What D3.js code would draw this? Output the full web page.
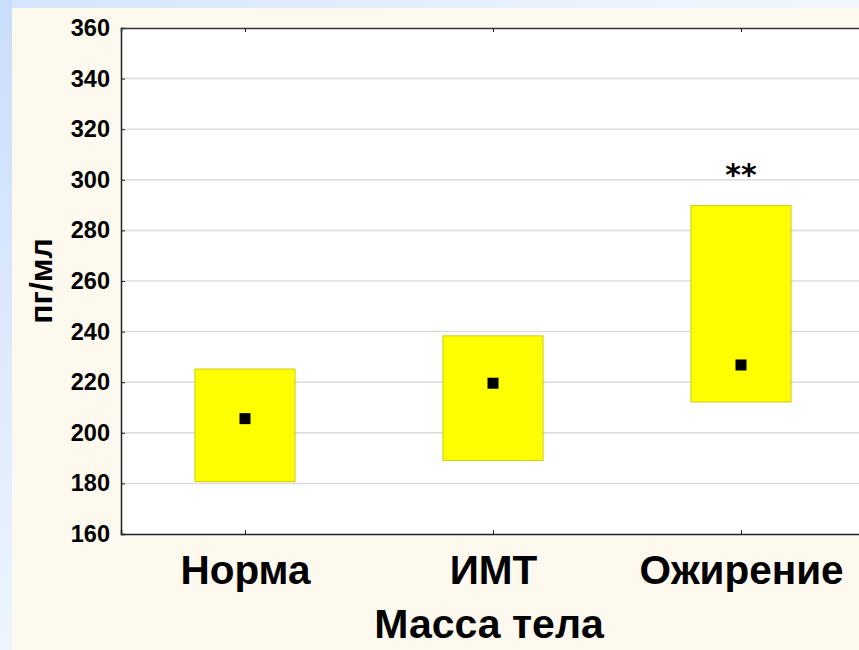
<!DOCTYPE html>
<html><head><meta charset="utf-8">
<script src="https://cdn.jsdelivr.net/npm/d3@7"></script>
<style>body{margin:0;padding:0;overflow:hidden}svg{display:block}</style>
</head><body>
<script>
const categories = ["Норма", "ИМТ", "Ожирение"];
const means = [205.6, 219.6, 226.8];
const lower = [180.7, 189.1, 212.2];
const upper = [225.2, 238.3, 289.8];
const yTicks = [160, 180, 200, 220, 240, 260, 280, 300, 320, 340, 360];
const marks = ["", "", "**"];

(function(){
const W = 859, H = 650;
const svg = d3.select("body").append("svg").attr("width", W).attr("height", H);
const defs = svg.append("defs");
const g1 = defs.append("linearGradient").attr("id","bgL").attr("x1",0).attr("y1",0).attr("x2",0).attr("y2",1);
g1.append("stop").attr("offset","0%").attr("stop-color","#c9defb");
g1.append("stop").attr("offset","100%").attr("stop-color","#edf4fd");
const g2 = defs.append("linearGradient").attr("id","bgT").attr("x1",0).attr("y1",0).attr("x2",1).attr("y2",0);
g2.append("stop").attr("offset","0%").attr("stop-color","#d3e5fc");
g2.append("stop").attr("offset","100%").attr("stop-color","#f3f8ff");
svg.append("rect").attr("width",W).attr("height",H).attr("fill","url(#bgT)");
svg.append("rect").attr("width",12).attr("height",H).attr("fill","url(#bgL)");
svg.append("rect").attr("x",12).attr("y",8).attr("width",W-12).attr("height",H-8).attr("fill","#fdf9ef");

const pL = 121, pT = 28, pB = 534, pR = 865;
const x = d3.scalePoint().domain(categories).range([pL, pR]).padding(0.5);
const y = d3.scaleLinear().domain([160, 360]).range([pB, pT]);

svg.append("rect").attr("x",pL).attr("y",pT).attr("width",W-pL).attr("height",pB-pT).attr("fill","#ffffff");

// gridlines
svg.append("g").selectAll("line").data(yTicks.filter(d=>d>160 && d<360)).join("line")
  .attr("x1",pL).attr("x2",W).attr("y1",d=>y(d)).attr("y2",d=>y(d))
  .attr("stroke","#dcdcdc").attr("stroke-width",1.5);

// boxes
const bw = 100;
svg.append("g").selectAll("rect").data(categories).join("rect")
  .attr("x",(d)=>x(d)-bw/2).attr("width",bw)
  .attr("y",(d,i)=>y(upper[i])).attr("height",(d,i)=>y(lower[i])-y(upper[i]))
  .attr("fill","#ffff00").attr("stroke","#cccc00").attr("stroke-width",1);

// means
const ps = 11;
svg.append("g").selectAll("rect").data(categories).join("rect")
  .attr("x",d=>x(d)-ps/2).attr("y",(d,i)=>y(means[i])-ps/2)
  .attr("width",ps).attr("height",ps).attr("fill","#000");

// significance marks
svg.append("g").selectAll("text").data(categories).join("text")
  .attr("x",d=>x(d)).attr("y",(d,i)=>y(upper[i]) - 21)
  .attr("text-anchor","middle")
  .attr("font-family","'DejaVu Sans',sans-serif").attr("font-weight","bold")
  .attr("font-size",30).attr("fill","#000")
  .text((d,i)=>marks[i]);

// axes
const yAxis = d3.axisLeft(y).tickValues(yTicks).tickSize(-4).tickPadding(11);
const ya = svg.append("g").attr("transform",`translate(${pL},0)`).call(yAxis);
ya.select(".domain").attr("stroke","#222").attr("stroke-width",1.5);
ya.selectAll(".tick line").attr("stroke","#222");
ya.selectAll("text").attr("font-family","'Liberation Sans',Arial,sans-serif").attr("font-weight","bold")
  .attr("font-size",23.5).attr("fill","#000");

const xAxis = d3.axisBottom(x).tickSize(-4).tickPadding(21);
const xa = svg.append("g").attr("transform",`translate(0,${pB})`).call(xAxis);
xa.select(".domain").attr("stroke","#222").attr("stroke-width",1.5);
xa.selectAll(".tick line").attr("stroke","#222");
xa.selectAll("text").attr("font-family","'Liberation Sans',Arial,sans-serif").attr("font-weight","bold")
  .attr("font-size",40.5).attr("fill","#000");

const xTop = d3.axisTop(x).tickSize(-4).tickFormat("");
const xt = svg.append("g").attr("transform",`translate(0,${pT})`).call(xTop);
xt.select(".domain").attr("stroke","#333").attr("stroke-width",1.5);
xt.selectAll(".tick line").attr("stroke","#222");

// axis titles
svg.append("text").attr("x",489).attr("y",638)
  .attr("text-anchor","middle").attr("font-family","'Liberation Sans',Arial,sans-serif")
  .attr("font-weight","bold").attr("font-size",41).attr("fill","#000").text("Масса тела");
svg.append("text").attr("transform","translate(52,281) rotate(-90)")
  .attr("text-anchor","middle").attr("font-family","'Liberation Sans',Arial,sans-serif")
  .attr("font-weight","bold").attr("font-size",32).attr("fill","#000").text("пг/мл");
})();
</script>
</body></html>
